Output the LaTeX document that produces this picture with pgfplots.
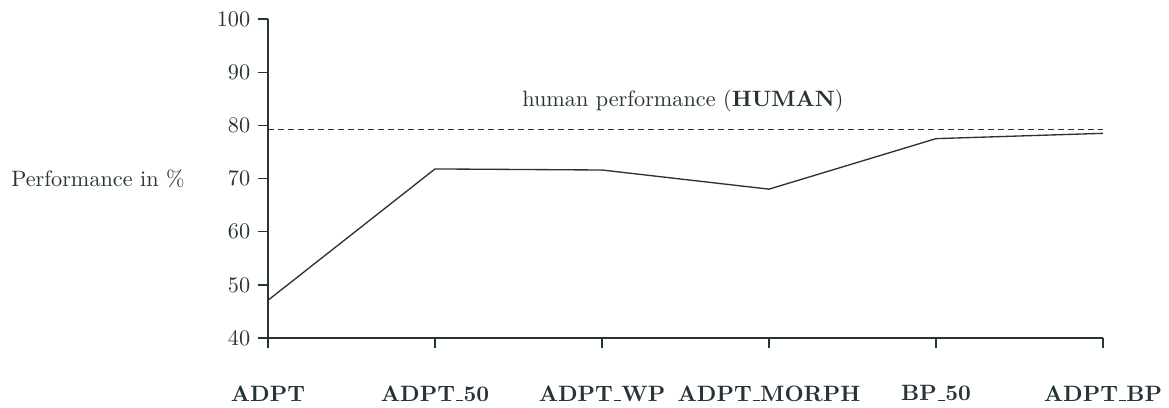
\documentclass[border=0pt]{standalone}
\usepackage{pgfplots}
\pgfplotsset{compat=1.18}
\definecolor{ink}{RGB}{38,52,56}
\newcommand\us{\leavevmode\kern.06em\vbox{\hrule width .3em height 0.5pt}\kern.02em}
\begin{document}
\begin{tikzpicture}
\useasboundingbox (-120.6pt,-31.05pt) rectangle (405.45pt,152.1pt);
\begin{axis}[
  at={(0,0)}, anchor=south west,
  scale only axis,
  width=375.75pt, height=143.55pt,
  xmin=0, xmax=5, ymin=40, ymax=100,
  axis x line=bottom, axis y line=left,
  axis line style={-, ink, line width=0.6pt},
  tick style={ink, line width=0.6pt},
  tick align=outside,
  major tick length=4.5pt,
  xtick={0,1,2,3,4,5},
  xticklabels={ADPT,ADPT\us50,ADPT\us WP,ADPT\us MORPH,BP\us50,ADPT\us BP},
  xticklabel style={font=\bfseries, text=ink, yshift=-13.4pt},
  ytick={40,50,...,100},
  yticklabel style={text=ink},
  clip=false,
]
\addplot[ink, line width=0.6pt, dash pattern=on 2.7pt off 1.8pt] coordinates {(0,79.2) (5,79.2)};
\addplot[ink, line width=0.6pt] coordinates {
  (0,47.1) (1,71.8) (2,71.6) (3,68.0) (4,77.5) (5,78.5)
};
\node[text=ink] at (axis cs:2.485,84.6) {human performance (\textbf{HUMAN})};
\node[text=ink, anchor=east, inner sep=0pt] at ([xshift=-37.35pt]rel axis cs:0,0.5) {Performance in \%};
\end{axis}
\end{tikzpicture}
\end{document}
